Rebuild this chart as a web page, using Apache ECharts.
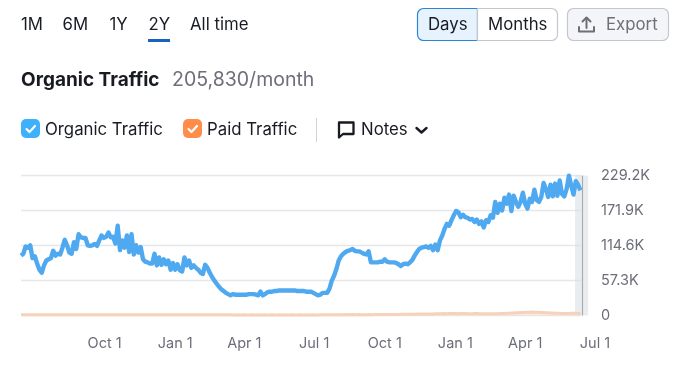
<!DOCTYPE html>
<html><head><meta charset="utf-8">
<style>html,body{margin:0;padding:0;background:#fff}#c{width:680px;height:370px}</style>
<script src="https://cdn.jsdelivr.net/npm/echarts@6/dist/echarts.min.js"></script>
</head><body><div id="c"></div>
<script>
const startDate = '2022-06-14';
const stepDays = 3;
const organicK = [
98,101,113,111,115,94,97,85,75,70,82,90,92,94,106,98,101,100,111,124,115,103,101,120,109,133,128,127,127,115,
114,115,117,114,123,131,127,129,136,128,129,118,147,107,123,111,131,104,133,100,115,103,112,92,88,87,85,85,101,82,
95,83,92,84,90,75,86,75,84,74,72,95,82,90,78,82,78,75,70,68,83,78,70,63,57,52,47,43,40,37,
35,33,35,34,34,34,34,34,34,35,35,35,34,33,39,33,35,38,39,39,40,40,41,41,41,41,41,41,41,41,
40,40,40,40,39,39,39,37,35,33,34,37,37,37,44,57,65,76,90,97,101,104,106,107,109,106,105,105,103,101,
100,105,87,87,87,87,88,88,92,88,87,87,87,86,84,81,84,85,84,87,91,98,104,109,111,112,113,111,114,107,
116,107,123,131,142,150,
147,156,164,171,169,161,165,161,160,157,158,153,157,150,154,144,156,153,164,160,186,168,183,172,193,183,198,171,196,186,
178,186,201,183,175,191,186,206,189,186,194,217,207,194,214,195,216,196,221,199,195,207,229,213,198,220,214,205
];
const paidK = [
1.2,1.3,1.2,1.2,1.3,1.2,1.2,1.3,1.3,1.2,1.2,1.3,1.4,1.3,1.2,1.2,1.3,1.3,1.2,1.2,1.3,1.4,1.3,1.2,1.2,1.3,1.3,1.2,1.2,1.3,
1.2,1.3,1.2,1.2,1.3,1.2,1.2,1.3,1.3,1.2,1.2,1.3,1.4,1.3,1.2,1.2,1.3,1.3,1.2,1.2,1.3,1.4,1.3,1.2,1.2,1.3,1.3,1.2,1.2,1.3,
1.2,1.2,1.1,1.1,1.2,1.1,1.1,1.2,1.2,1.1,1.1,1.2,1.1,1.1,1.2,1.1,1.1,1.2,1.2,1.1,1.1,1.1,1.2,1.1,1.1,1.2,1.1,1.1,1.2,1.1,
1.1,1.1,1.0,1.0,1.1,1.0,1.0,1.1,1.0,1.0,1.1,1.0,1.0,1.1,1.0,1.0,1.1,1.0,1.0,1.1,1.0,1.0,1.1,1.0,1.0,1.1,1.0,1.0,1.1,1.0,
1.0,1.1,1.0,1.0,1.1,1.0,1.0,1.1,1.0,1.0,1.1,1.1,1.2,1.2,1.3,1.3,1.4,1.4,1.5,1.4,1.4,1.5,1.4,1.4,1.5,1.4,1.4,1.5,1.4,1.4,
1.4,1.5,1.4,1.4,1.5,1.5,1.6,1.5,1.5,1.6,1.6,1.7,1.7,1.8,1.8,1.9,1.9,2.0,2.0,2.1,2.2,2.2,2.3,2.3,2.4,2.4,2.5,2.4,2.5,2.6,
2.7,2.8,2.9,3.0,3.1,3.0,3.1,3.2,3.2,3.1,3.0,3.1,3.2,3.1,3.0,2.9,3.0,3.1,3.2,3.0,2.9,2.8,2.9,2.8,2.7,2.8,2.9,3.0,3.1,3.2,
3.4,3.6,3.8,4.0,4.2,4.4,4.6,4.8,5.0,5.2,5.4,5.5,5.6,5.5,5.4,5.2,5.0,4.8,4.6,4.4,4.2,4.0,3.8,3.6,3.5,3.4,3.2,3.2,3.3,3.5,3.6,3.5,3.4,3.3
];
const xTickDates = ['2022-10-01','2023-01-01','2023-04-01','2023-07-01','2023-10-01','2024-01-01','2024-04-01','2024-07-01'];
const xTickLabels = ['Oct 1','Jan 1','Apr 1','Jul 1','Oct 1','Jan 1','Apr 1','Jul 1'];
const yTickStep = 57.3;
const yMax = 229.2;
const yTickLabels = ['0','57.3K','114.6K','171.9K','229.2K'];
const axisEndLabelled = '2024-07-01';
const axisEndGrid = '2024-06-14';
const bandDates = ['2024-06-05','2024-06-22'];
const markerDate = '2024-06-14';
const tabs = ['1M','6M','1Y','2Y','All time'];
const totalText = '205,830/month';

const DAY = 86400000;
const t0 = Date.parse(startDate);
const pairs = a => a.map((v,i)=>[t0+i*stepDays*DAY, v]);
const tickTs = xTickDates.map(d=>Date.parse(d));
const FONT = 'Inter, "Noto Sans", sans-serif';
const INK = '#191b23', MUTED = '#6c6e79';

const txt = (x,y,text,size,fill,extra={}) => ({type:'text',silent:true,x,y,style:Object.assign({text,fontFamily:FONT,fontSize:size,fill,verticalAlign:'middle'},extra)});
const rect = (x,y,w,h,r,fill,stroke,lw=1) => ({type:'rect',silent:true,shape:{x,y,width:w,height:h,r},style:{fill,stroke,lineWidth:lw}});
const poly = (pts,stroke,lw=2) => ({type:'polyline',silent:true,shape:{points:pts},style:{stroke,lineWidth:lw,fill:null,lineCap:'round',lineJoin:'round'}});
const polygon = (pts,stroke,lw=2) => ({type:'polygon',silent:true,shape:{points:pts},style:{stroke,lineWidth:lw,fill:null,lineJoin:'round'}});

const tabX = [21,62.5,109.5,148.5,190];
const graphics = [
  ...tabs.map((t,i)=>txt(tabX[i],24.5,t,16.8,INK)),
  rect(148,39,22,3,0,'#1a62c0',null,0),
  rect(417.5,8.5,60,32,[6,0,0,6],'#e6f2fd','#2b85d5',1.2),
  rect(477.5,8.5,80,32,[0,6,6,0],'#ffffff','#c4c7cf',1.2),
  rect(567.5,8.5,101,32,6,'#f4f5f9','#c4c7cf',1.2),
  txt(428,25,'Days',16.8,INK),
  txt(488,25,'Months',16.8,INK),
  txt(606,25,'Export',16.8,MUTED),
  poly([[579,27],[579,31.5],[594,31.5],[594,27]],MUTED,2),
  poly([[586.5,28],[586.5,18]],MUTED,2),
  poly([[582.5,21.5],[586.5,17.5],[590.5,21.5]],MUTED,2),
  txt(21,80.5,'Organic Traffic',19,INK,{fontWeight:700}),
  txt(172,80.5,totalText,19.5,MUTED),
  rect(21,119,19,19,5,'#3fb0fb',null,0),
  poly([[26.5,129],[29.5,132],[35,126]],'#fff',2.2),
  txt(45,129.5,'Organic Traffic',16.8,INK),
  rect(183,119,19,19,5,'#ff8c4b',null,0),
  poly([[188.5,129],[191.5,132],[197,126]],'#fff',2.2),
  txt(207,129.5,'Paid Traffic',16.8,INK),
  rect(316,118,1,24,0,'#d3d4da',null,0),
  polygon([[339,122.5],[353.5,122.5],[353.5,134],[343,134],[339,137.5]],INK,2.3),
  txt(361,129.5,'Notes',16.8,INK),
  poly([[416.5,128],[421.5,132.5],[426.5,128]],INK,2.4)
];

const chart = echarts.init(document.getElementById('c'));
chart.setOption({
  animation:false,
  graphic:graphics,
  grid:[
    {left:21,top:175.5,width:574,height:140},
    {left:21,top:175.5,width:560,height:140}
  ],
  xAxis:[
    {type:'value',gridIndex:0,min:t0,max:Date.parse(axisEndLabelled),
     axisLine:{show:false},axisTick:{show:false},splitLine:{show:false},
     axisLabel:{customValues:tickTs,hideOverlap:false,margin:21,showMinLabel:true,showMaxLabel:true,
       formatter:(v)=>xTickLabels[tickTs.indexOf(+v)]||'',color:MUTED,fontFamily:FONT,fontSize:14.5}},
    {type:'value',gridIndex:1,min:t0,max:Date.parse(axisEndGrid),show:false}
  ],
  yAxis:[
    {type:'value',gridIndex:0,min:0,max:yMax,interval:yTickStep,show:false},
    {type:'value',gridIndex:1,min:0,max:yMax,interval:yTickStep,position:'right',
     axisLine:{show:false},axisTick:{show:false},
     splitLine:{show:true,lineStyle:{color:'#e6e7ec',width:1.4}},
     axisLabel:{margin:20,color:MUTED,fontFamily:FONT,fontSize:14.5,
       formatter:(v)=>yTickLabels[Math.round(v/yTickStep)]}}
  ],
  series:[
    {name:'Paid Traffic',type:'line',xAxisIndex:0,yAxisIndex:0,data:pairs(paidK),showSymbol:false,clip:false,z:2,
     lineStyle:{color:'#f6d2bb',width:3},areaStyle:{color:'#fbe3d4'},
     markArea:{silent:true,itemStyle:{color:'rgba(215,222,225,0.55)'},
       data:[[{xAxis:Date.parse(bandDates[0])},{xAxis:Date.parse(bandDates[1])}]]},
     markLine:{silent:true,symbol:'none',label:{show:false},lineStyle:{color:'#a9adb0',width:1.2,type:'solid'},
       data:[{xAxis:Date.parse(markerDate)}]}},
    {name:'Organic Traffic',type:'line',xAxisIndex:0,yAxisIndex:0,data:pairs(organicK),showSymbol:false,z:3,clip:false,
     lineStyle:{color:'#4fa9f0',width:4.4,join:'round'}}
  ]
});
</script></body></html>
